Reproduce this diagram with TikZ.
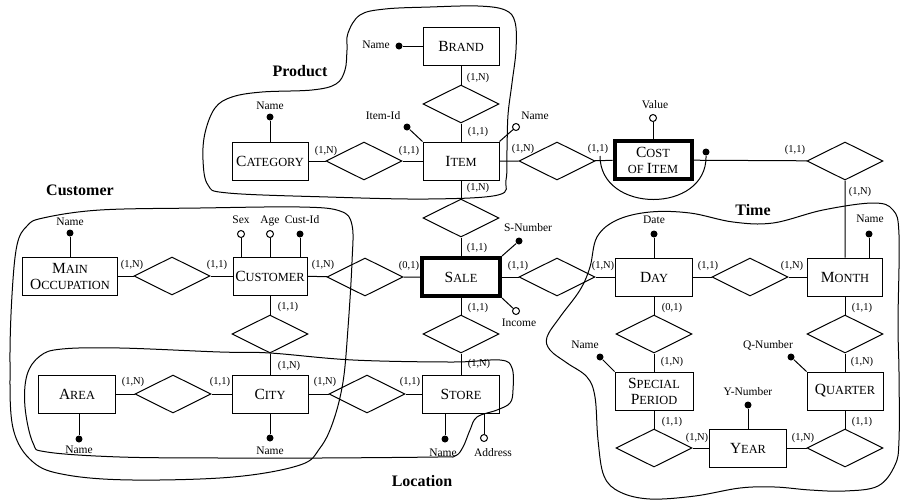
\documentclass[tikz,border=0pt]{standalone}
\usepackage{fontspec}
\setmainfont{Liberation Serif}
\usetikzlibrary{shapes.geometric}
\newcommand\ensc[2]{{\fontsize{15.5}{17}\selectfont #1}{\fontsize{12.4}{17}\selectfont #2}}
\newcommand\smc[1]{{\fontsize{12.4}{17}\selectfont #1}}
\tikzset{
  ent/.style={draw, line width=1pt, minimum width=76pt, minimum height=38pt, inner sep=0pt, align=center, font=\fontsize{12.4}{17}\selectfont},
  weakent/.style={ent, line width=4pt, minimum width=78pt, minimum height=38pt},
  rel/.style={draw, diamond, shape aspect=2, minimum width=76pt, minimum height=38pt, inner sep=0pt, line width=1pt},
  card/.style={inner sep=0pt, font=\fontsize{10.5}{11}\selectfont},
  attr/.style={inner sep=0pt, font=\fontsize{11.5}{12}\selectfont},
  grp/.style={inner sep=0pt, font=\fontsize{16}{18}\selectfont\bfseries},
  idot/.style={circle, fill=black, inner sep=0pt, minimum size=7pt},
  odot/.style={circle, draw, fill=white, inner sep=0pt, minimum size=7pt, line width=1pt},
  conn/.style={line width=1pt}
}
\begin{document}
\begin{tikzpicture}[x=1pt, y=-1pt, line width=1pt]
\useasboundingbox (0,0) rectangle (901,501);

% ---------- contours ----------
\draw[line width=1pt] plot[smooth cycle, tension=0.6] coordinates {(348,33) (360,15) (385,9) (430,7) (478,6) (505,10) (515,22) (516,50) (512,83) (508,115) (507,150) (506,180) (498,195) (428,199) (328,197) (228,193) (208,185) (203,160) (205,133) (215,108) (232,97) (262,92) (312,90) (336,84) (345,70) (347,50)};
\draw[line width=1pt] plot[smooth cycle, tension=0.6] coordinates {(43,218) (100,210) (200,208) (300,207) (340,211) (352,225) (352,262) (348,328) (343,382) (333,422) (320,448) (300,465) (233,477) (133,480) (67,475) (33,462) (13,428) (10,362) (12,295) (17,245) (27,226)};
\draw[line width=1pt] plot[smooth cycle, tension=0.6] coordinates {(40,356) (62,349) (120,348) (220,352) (270,353) (353,360) (453,362) (500,360) (512,368) (513,390) (510,403) (497,410) (477,417) (470,430) (463,447) (455,456) (437,457) (320,458) (220,458) (120,457) (47,452) (33,443) (25,407) (27,375)};
\draw[line width=1pt] plot[smooth cycle, tension=0.6] coordinates {(597,237) (617,220) (650,212) (690,213) (733,222) (773,223) (823,210) (873,203) (893,210) (899,235) (898,323) (899,373) (899,440) (895,465) (878,486) (845,491) (810,490) (775,487) (740,488) (695,496) (650,499) (620,492) (604,476) (598,440) (595,397) (587,377) (567,363) (550,350) (547,337) (560,317) (580,290) (590,267)};

% ---------- group labels ----------
\node[grp] (gprod) at (300,71) {Product};
\node[grp] (gcust) at (80,190) {Customer};
\node[grp] (gloc) at (422,481) {Location};
\node[grp] (gtime) at (753,210) {Time};

% ---------- entities ----------
\node[ent] (brand) at (461,46) {\ensc{B}{RAND}};
\node[ent] (item) at (461,161) {\ensc{I}{TEM}};
\node[ent] (category) at (270,161) {\ensc{C}{ATEGORY}};
\node[weakent, minimum width=77pt] (cost) at (653,160) {\ensc{C}{OST}\\[-1pt]\smc{OF }\ensc{I}{TEM}};
\node[ent, minimum width=95pt] (mainocc) at (70,276) {\ensc{M}{AIN}\\[-1pt]\ensc{O}{CCUPATION}};
\node[ent, minimum width=74pt] (customer) at (270,276) {\ensc{C}{USTOMER}};
\node[weakent] (sale) at (461,277) {\ensc{S}{ALE}};
\node[ent, minimum width=77pt] (day) at (654,277) {\ensc{D}{AY}};
\node[ent, minimum width=75pt] (month) at (845,277) {\ensc{M}{ONTH}};
\node[ent, minimum width=77pt] (area) at (77,394) {\ensc{A}{REA}};
\node[ent] (city) at (270,394) {\ensc{C}{ITY}};
\node[ent, minimum width=77pt] (store) at (461,394) {\ensc{S}{TORE}};
\node[ent, minimum width=78pt] (special) at (654,391) {\ensc{S}{PECIAL}\\[-1pt]\ensc{P}{ERIOD}};
\node[ent] (quarter) at (845,391) {\ensc{Q}{UARTER}};
\node[ent, minimum width=77pt] (year) at (748,448) {\ensc{Y}{EAR}};

% ---------- relationships ----------
\node[rel] (rB) at (461,104) {};
\node[rel] (rCI) at (364,161) {};
\node[rel] (rIC) at (557,161) {};
\node[rel] (rCM) at (845,161) {};
\node[rel] (rIS) at (461,218) {};
\node[rel] (rMC) at (172,276) {};
\node[rel] (rCS) at (365,277) {};
\node[rel] (rSD) at (557,277) {};
\node[rel] (rDM) at (750,277) {};
\node[rel] (rCC) at (270,334) {};
\node[rel] (rSS) at (461,334) {};
\node[rel] (rDSP) at (654,334) {};
\node[rel] (rMQ) at (845,334) {};
\node[rel] (rAC) at (173,394) {};
\node[rel] (rCSt) at (367,394) {};
\node[rel] (rSPY) at (654,448) {};
\node[rel] (rYQ) at (845,448) {};

% ---------- connectors ----------
\draw[conn] (brand) -- (rB) -- (item);
\draw[conn] (category) -- (rCI) -- (item);
\draw[conn] (item) -- (rIC) -- (cost);
\draw[conn] (cost) -- (rCM) -- (month);
\draw[conn] (item) -- (rIS) -- (sale);
\draw[conn] (mainocc) -- (rMC) -- (customer);
\draw[conn] (customer) -- (rCS) -- (sale);
\draw[conn] (sale) -- (rSD) -- (day);
\draw[conn] (day) -- (rDM) -- (month);
\draw[conn] (customer) -- (rCC) -- (city);
\draw[conn] (sale) -- (rSS) -- (store);
\draw[conn] (area) -- (rAC) -- (city);
\draw[conn] (city) -- (rCSt) -- (store);
\draw[conn] (day) -- (rDSP) -- (special);
\draw[conn] (special) -- (rSPY) -- (year);
\draw[conn] (year) -- (rYQ) -- (quarter);
\draw[conn] (quarter) -- (rMQ) -- (month);

% ---------- attributes ----------
\node[idot] (bname) at (399,46) {};
\draw[conn] (brand) -- (bname);
\node[attr] (bnamel) at (376,45) {Name};

\node[idot] (catname) at (270,117) {};
\draw[conn] (category) -- (catname);
\node[attr] (catnamel) at (270,106) {Name};

\node[idot] (itemid) at (407,127) {};
\draw[conn] (item.north west) -- (itemid);
\node[attr] (itemidl) at (383,116) {Item-Id};

\node[odot] (itemname) at (516,127) {};
\draw[conn] (item.north east) -- (itemname);
\node[attr] (itemnamel) at (535,116) {Name};

\node[odot] (value) at (653,118) {};
\draw[conn] (cost) -- (value);
\node[attr] (valuel) at (655,105) {Value};

\node[idot] (costid) at (706,152) {};
\coordinate (costarc) at (600,156);
\draw[conn] (costarc) .. controls (600,214) and (707,214) .. (costid);

\node[idot] (moname) at (70,233) {};
\draw[conn] (mainocc) -- (moname);
\node[attr] (monamel) at (70,222) {Name};

\node[odot] (sex) at (241,234) {};
\draw[conn] (sex) -- (sex |- customer.north);
\node[attr] (sexl) at (241,220) {Sex};
\node[odot] (age) at (270,234) {};
\draw[conn] (age) -- (age |- customer.north);
\node[attr] (agel) at (270,221) {Age};
\node[idot] (custid) at (300,234) {};
\draw[conn] (custid) -- (custid |- customer.north);
\node[attr] (custidl) at (302,220) {Cust-Id};

\node[idot] (snum) at (519,241) {};
\draw[conn] (sale.north east) -- (snum);
\node[attr] (snuml) at (528,228) {S-Number};
\node[odot] (income) at (516,311) {};
\draw[conn] (sale.south east) -- (income);
\node[attr] (incomel) at (519,323) {Income};

\node[idot] (aname) at (79,439) {};
\draw[conn] (aname) -- (aname |- area.south);
\node[attr] (anamel) at (79,450) {Name};
\node[idot] (cname) at (270,438) {};
\draw[conn] (city) -- (cname);
\node[attr] (cnamel) at (270,451) {Name};
\node[idot] (sname) at (445,439) {};
\draw[conn] (sname) -- (sname |- store.south);
\node[attr] (snamel) at (443,453) {Name};
\node[odot] (addr) at (484,438) {};
\draw[conn] (addr) -- (addr |- store.south);
\node[attr] (addrl) at (493,453) {Address};

\node[idot] (date) at (654,234) {};
\draw[conn] (day) -- (date);
\node[attr] (datel) at (654,220) {Date};
\node[idot] (mname) at (869,234) {};
\draw[conn] (mname) -- (mname |- month.north);
\node[attr] (mnamel) at (870,219) {Name};
\node[idot] (spname) at (600,357) {};
\draw[conn] (special.north west) -- (spname);
\node[attr] (spnamel) at (585,345) {Name};
\node[idot] (qnum) at (791,357) {};
\draw[conn] (quarter.north west) -- (qnum);
\node[attr] (qnuml) at (768,345) {Q-Number};
\node[idot] (ynum) at (748,405) {};
\draw[conn] (year) -- (ynum);
\node[attr] (ynuml) at (748,392) {Y-Number};

% ---------- cardinalities ----------
\node[card] (k1) at (478,78) {(1,N)};
\node[card] (k2) at (478,132) {(1,1)};
\node[card] (k3) at (326,151) {(1,N)};
\node[card] (k4) at (409,151) {(1,1)};
\node[card] (k5) at (523,149) {(1,N)};
\node[card] (k6) at (598,149) {(1,1)};
\node[card] (k7) at (795,150) {(1,1)};
\node[card] (k8) at (860,192) {(1,N)};
\node[card] (k9) at (478,188) {(1,N)};
\node[card] (k10) at (477,248) {(1,1)};
\node[card] (k11) at (132,265) {(1,N)};
\node[card] (k12) at (217,265) {(1,1)};
\node[card] (k13) at (323,265) {(1,N)};
\node[card] (k14) at (409,266) {(0,1)};
\node[card] (k15) at (518,266) {(1,1)};
\node[card] (k16) at (603,266) {(1,N)};
\node[card] (k17) at (708,266) {(1,1)};
\node[card] (k18) at (792,266) {(1,N)};
\node[card] (k19) at (288,307) {(1,1)};
\node[card] (k20) at (478,308) {(1,1)};
\node[card] (k21) at (672,308) {(0,1)};
\node[card] (k22) at (862,308) {(1,1)};
\node[card] (k23) at (289,366) {(1,N)};
\node[card] (k24) at (479,364) {(1,N)};
\node[card] (k25) at (672,362) {(1,N)};
\node[card] (k26) at (862,362) {(1,N)};
\node[card] (k27) at (133,382) {(1,N)};
\node[card] (k28) at (220,382) {(1,1)};
\node[card] (k29) at (325,382) {(1,N)};
\node[card] (k30) at (410,382) {(1,1)};
\node[card] (k31) at (672,422) {(1,1)};
\node[card] (k32) at (862,422) {(1,1)};
\node[card] (k33) at (697,438) {(1,N)};
\node[card] (k34) at (803,438) {(1,N)};
\end{tikzpicture}
\end{document}
